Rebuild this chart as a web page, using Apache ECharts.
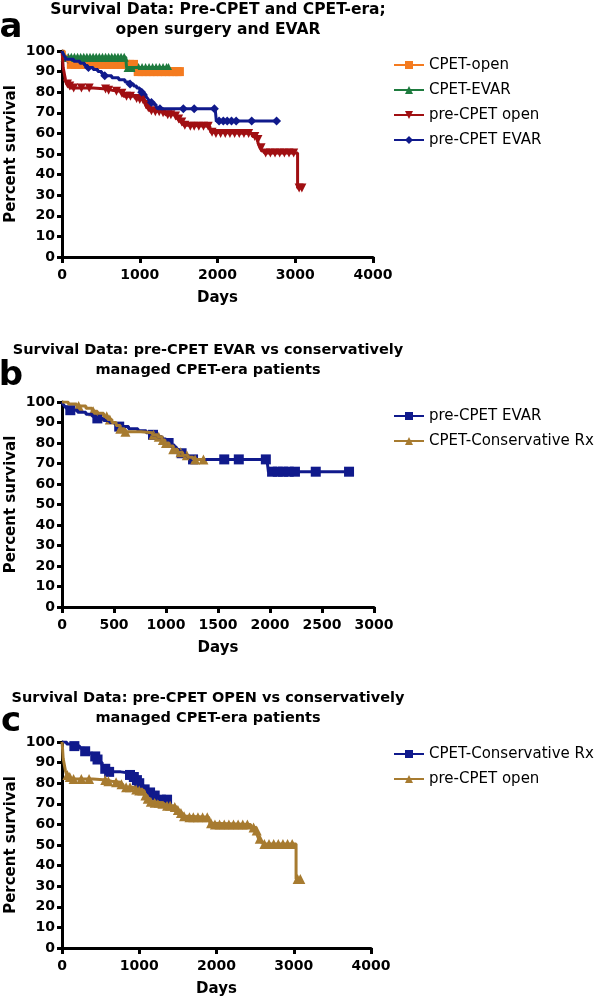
<!DOCTYPE html>
<html><head><meta charset="utf-8">
<script src="https://cdn.jsdelivr.net/npm/echarts@6/dist/echarts.min.js"></script>
<style>html,body{margin:0;padding:0;background:#fff}#c{width:600px;height:1000px}</style>
</head><body><div id="c"></div>
<script>
// ---------- tick labels ----------
const yTicks = [0,10,20,30,40,50,60,70,80,90,100];
const xTicksA = [0,1000,2000,3000,4000];
const xTicksB = [0,500,1000,1500,2000,2500,3000];
const xTicksC = [0,1000,2000,3000,4000];

// ---------- titles / legends ----------
const titleA = 'Survival Data: Pre-CPET and CPET-era;\nopen surgery and EVAR';
const titleB = 'Survival Data: pre-CPET EVAR vs conservatively\nmanaged CPET-era patients';
const titleC = 'Survival Data: pre-CPET OPEN vs conservatively\nmanaged CPET-era patients';
const legendA = ['CPET-open','CPET-EVAR','pre-CPET open','pre-CPET EVAR'];
const legendB = ['pre-CPET EVAR','CPET-Conservative Rx'];
const legendC = ['CPET-Conservative Rx','pre-CPET open'];

// ---------- survival curves [day, percent] (step points) and censor marks ----------
const cpetOpenCurve = [[0,100],[30,97.5],[70,95],[100,93.5],[950,93.5],[960,90],[1510,90]];
const cpetOpenMarks = [[120,93.5],[170,93.5],[220,93.5],[270,93.5],[320,93.5],[370,93.5],[420,93.5],[470,93.5],[520,93.5],[570,93.5],[620,93.5],[670,93.5],[720,93.5],[770,93.5],[820,93.5],[870,93.5],[920,93.5],
  [980,90],[1030,90],[1080,90],[1130,90],[1180,90],[1230,90],[1280,90],[1330,90],[1380,90],[1430,90],[1480,90],[1510,90]];

const cpetEvarCurve = [[0,100],[15,98.5],[30,97],[820,97],[830,92],[1370,92]];
const cpetEvarMarks = [[40,97],[80,97],[120,97],[160,97],[200,97],[240,97],[280,97],[320,97],[360,97],[400,97],[440,97],[480,97],[520,97],[560,97],[600,97],[640,97],[680,97],[720,97],[760,97],[800,97],
  [850,92],[895,92],[940,92],[985,92],[1030,92],[1075,92],[1120,92],[1165,92],[1210,92],[1255,92],[1300,92],[1345,92],[1370,92]];

const preOpenCurve = [[0,100],[5,98],[10,95],[15,92],[25,90],[35,88],[45,86],[60,84],[85,83],[110,82],[400,81.5],[580,81],[640,80.5],[760,79.5],[790,78],[940,77],[980,76.5],[1060,76],[1075,74],[1090,72.5],[1130,71],[1180,70.5],[1290,70],[1330,69],[1440,68.5],[1480,67],[1520,65.5],[1560,64],[1620,63.5],[1900,63],[1915,60.5],[1950,60],[2440,60],[2450,58.5],[2510,57],[2525,55],[2545,53],[2570,51.5],[2600,50.5],[3030,33.5],[3090,33.5]];
const preOpenMarks = [[70,84],[100,83],[150,82],[250,82],[350,82],[560,81.5],[600,81],[700,80.5],[770,79.5],[830,78],[880,78],[960,77],[1000,76.5],[1040,76.5],[1080,74],[1110,72.5],[1150,71],[1200,70.5],[1250,70.5],[1300,70],[1360,69],[1400,69],[1460,68.5],[1500,67],[1540,65.5],[1580,64],[1650,63.5],[1700,63.5],[1760,63.5],[1820,63.5],[1880,63.5],[1930,60.5],[1980,60],[2040,60],[2100,60],[2160,60],[2220,60],[2280,60],[2340,60],[2400,60],[2480,58.5],[2520,57],[2560,53],[2620,50.5],[2680,50.5],[2740,50.5],[2800,50.5],[2860,50.5],[2920,50.5],[2980,50.5],[3050,33.5],[3085,33.5]];

const preEvarCurve = [[0,100],[10,99],[25,98],[40,97],[60,96],[150,95],[230,94],[290,93],[330,92],[400,91],[460,90],[510,89],[550,88],[640,87],[730,86],[810,85],[870,84],[920,83],[960,82],[1000,81],[1020,80],[1050,79],[1080,78],[1100,77],[1120,76],[1145,75],[1180,74],[1210,73],[1235,72],[1970,72],[1985,66],[2760,66]];
const preEvarMarks = [[80,96],[340,92],[550,88],[875,84],[1025,80],[1150,75],[1260,72],[1560,72],[1700,72],[1960,72],[2020,66],[2075,66],[2125,66],[2180,66],[2240,66],[2440,66],[2760,66]];

const consCurve = [[0,100],[60,99],[140,98],[230,97],[290,95.5],[340,94.5],[400,93],[440,91.5],[480,90],[520,88.5],[560,87],[600,85.5],[760,85],[870,84],[920,83],[960,81.5],[990,80],[1030,78.5],[1070,77],[1110,75.5],[1160,74],[1210,73],[1260,72],[1380,72]];
const consMarks = [[160,98],[300,95.5],[430,93],[460,91.5],[560,87],[610,85.5],[880,84],[930,83],[970,81.5],[1000,80],[1070,77],[1140,75.5],[1200,74],[1280,72],[1360,72]];

// ---------- styling ----------
const C = {orange:'#F47B20', green:'#1E7B3E', red:'#A00F12', navy:'#101A8C', brown:'#A77B30'};
const SYM = {square:'rect', tri:'triangle', down:'path://M0,0L10,0L5,9Z', diamond:'diamond'};
const FONT = 'DejaVu Sans';

function curve(id, label, data, marks, color, symbol, g, size) {
  const name = id + '|' + label;
  return [
    {type:'line', name, xAxisIndex:g, yAxisIndex:g, data, step:'end', showSymbol:false, symbol,
     symbolSize:size, lineStyle:{color, width:3}, itemStyle:{color}, animation:false},
    {type:'scatter', name, xAxisIndex:g, yAxisIndex:g, data:marks, symbol, symbolSize:size,
     itemStyle:{color, opacity:1}, animation:false}
  ];
}

function xAxis(ticks, g) {
  return {type:'value', gridIndex:g, min:ticks[0], max:ticks[ticks.length-1], interval:ticks[1]-ticks[0],
    name:'Days', nameLocation:'middle', nameGap:34, nameMoveOverlap:false,
    nameTextStyle:{color:'#000', fontFamily:FONT, fontWeight:'bold', fontSize:15},
    axisLine:{show:true, onZero:false, lineStyle:{color:'#000', width:3}},
    axisTick:{show:true, length:6, lineStyle:{color:'#000', width:3}},
    axisLabel:{color:'#000', fontFamily:FONT, fontWeight:'bold', fontSize:14, margin:11, formatter:v => String(v)},
    splitLine:{show:false}};
}
function yAxis(g) {
  return {type:'value', gridIndex:g, min:yTicks[0], max:yTicks[yTicks.length-1], interval:yTicks[1]-yTicks[0],
    name:'Percent survival', nameLocation:'middle', nameGap:43, nameMoveOverlap:false,
    nameTextStyle:{color:'#000', fontFamily:FONT, fontWeight:'bold', fontSize:15},
    axisLine:{show:true, onZero:false, lineStyle:{color:'#000', width:3}},
    axisTick:{show:true, length:5, lineStyle:{color:'#000', width:3}},
    axisLabel:{color:'#000', fontFamily:FONT, fontWeight:'bold', fontSize:14, margin:7},
    splitLine:{show:false}};
}
function legend(id, names, top) {
  return {data:names.map(n => id + '|' + n), orient:'vertical', left:393, top, padding:0, itemWidth:30, itemHeight:10,
    itemGap:7, formatter:n => n.split('|')[1], selectedMode:false,
    textStyle:{color:'#000', fontFamily:FONT, fontSize:15, lineHeight:18}};
}
function titleText(text, x, y, size) {
  return {type:'text', x, y, style:{text, fill:'#000', font:'bold ' + size + 'px "' + FONT + '"',
    textAlign:'center', textVerticalAlign:'top', lineHeight:20}};
}
function panelLabel(text, x, y) {
  return {type:'text', x, y, style:{text, fill:'#000', font:'bold 34px "' + FONT + '"',
    textAlign:'center', textVerticalAlign:'middle'}};
}

const option = {
  backgroundColor:'#fff',
  animation:false,
  grid:[
    {left:62, top:51, width:311, height:206, outerBoundsMode:'none', containLabel:false},
    {left:62, top:402, width:312, height:205, outerBoundsMode:'none', containLabel:false},
    {left:62, top:742, width:309, height:206, outerBoundsMode:'none', containLabel:false}
  ],
  xAxis:[xAxis(xTicksA,0), xAxis(xTicksB,1), xAxis(xTicksC,2)],
  yAxis:[yAxis(0), yAxis(1), yAxis(2)],
  legend:[legend('a', legendA, 56), legend('b', legendB, 407), legend('c', legendC, 745)],
  graphic:[
    titleText(titleA, 218, 0, 15.5),
    titleText(titleB, 208, 340, 14.5),
    titleText(titleC, 208, 688, 14.5),
    panelLabel('a', 11, 28),
    panelLabel('b', 11, 376),
    panelLabel('c', 11, 722)
  ],
  series:[
    ...curve('a', legendA[0], cpetOpenCurve, cpetOpenMarks, C.orange, SYM.square, 0, 9),
    ...curve('a', legendA[1], cpetEvarCurve, cpetEvarMarks, C.green, SYM.tri, 0, 9),
    ...curve('a', legendA[2], preOpenCurve, preOpenMarks, C.red, SYM.down, 0, 9),
    ...curve('a', legendA[3], preEvarCurve, preEvarMarks, C.navy, SYM.diamond, 0, 9),
    ...curve('b', legendB[0], preEvarCurve, preEvarMarks, C.navy, SYM.square, 1, 10),
    ...curve('b', legendB[1], consCurve, consMarks, C.brown, SYM.tri, 1, 10),
    ...curve('c', legendC[0], consCurve, consMarks, C.navy, SYM.square, 2, 10),
    ...curve('c', legendC[1], preOpenCurve, preOpenMarks, C.brown, SYM.tri, 2, 10)
  ]
};
const chart = echarts.init(document.getElementById('c'), null, {renderer:'canvas'});
chart.setOption(option);
</script>
</body></html>
